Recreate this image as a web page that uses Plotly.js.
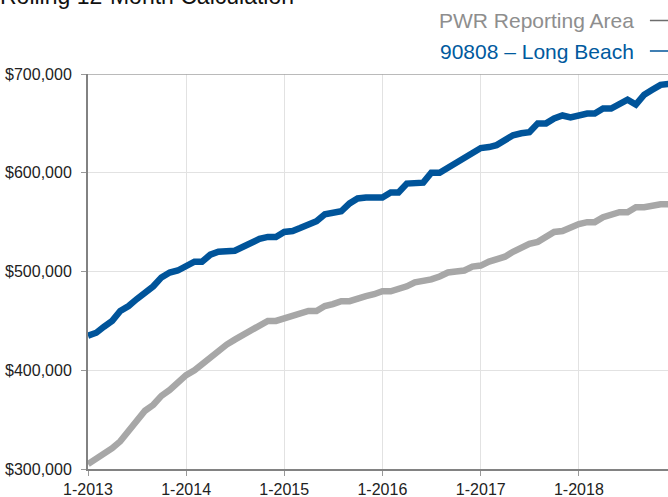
<!DOCTYPE html>
<html>
<head>
<meta charset="utf-8">
<script src="https://cdn.plot.ly/plotly-3.0.1.min.js"></script>
<style>
  html, body { margin: 0; padding: 0; overflow: hidden; background: #fff; width: 668px; height: 497px; }
  #chart { width: 700px; height: 520px; margin-top: -20px; }
</style>
</head>
<body>
<div id="chart"></div>
<script>
// Months Jan 2013 .. Dec 2018
var startYear = 2013;
var monthCount = 72;
var months = [];
for (var i = 0; i < monthCount; i++) {
  var y = startYear + Math.floor(i / 12);
  var m = (i % 12) + 1;
  months.push(y + '-' + (m < 10 ? '0' + m : m) + '-01');
}

var seriesNames = ['PWR Reporting Area', '90808 \u2013 Long Beach'];

// Rolling 12-month values (USD)
var pwrArea = [
  305000, 310000, 315000, 321000, 328000, 338000, 349000, 359000, 365000, 374000, 380000, 387000,
  395000, 400000, 406000, 414000, 421000, 426000, 431000, 436000, 441000, 446000, 450000, 450000,
  453000, 455000, 458000, 460000, 460000, 465000, 467000, 470000, 470000, 473000, 475000, 477000,
  480000, 480000, 482000, 485000, 489000, 490000, 492000, 495000, 499000, 500000, 501000, 505000,
  506000, 510000, 512000, 515000, 520000, 525000, 528000, 530000, 535000, 540000, 541000, 545000,
  548000, 550000, 550000, 555000, 557000, 560000, 560000, 565000, 565000, 567000, 568000, 568000
];

var longBeach = [
  435000, 438000, 444000, 450000, 460000, 465000, 472000, 479000, 485000, 494000, 499000, 501000,
  505000, 510000, 510000, 517000, 520000, 520000, 521000, 525000, 530000, 533000, 535000, 535000,
  540000, 541000, 544000, 548000, 551000, 558000, 560000, 561000, 569000, 574000, 575000, 575000,
  575000, 580000, 580000, 589000, 589000, 590000, 600000, 600000, 605000, 610000, 615000, 620000,
  625000, 626000, 628000, 633000, 638000, 640000, 641000, 650000, 650000, 655000, 658000, 656000,
  658000, 660000, 660000, 665000, 665000, 669000, 674000, 669000, 679000, 684000, 689000, 690000
];

var titleText = 'Rolling 12-Month Calculation';

var GRAY = '#a7a7a7';
var BLUE = '#00549a';
var FONT = 'Liberation Sans, Arial, Helvetica, sans-serif';

var traces = [
  {
    x: months, y: pwrArea, name: seriesNames[0], type: 'scatter', mode: 'lines',
    line: { color: GRAY, width: 6.5 }, showlegend: false, hoverinfo: 'x+y'
  },
  {
    x: months, y: longBeach, name: seriesNames[1], type: 'scatter', mode: 'lines',
    line: { color: BLUE, width: 6.5 }, showlegend: false, hoverinfo: 'x+y'
  }
];

var layout = {
  width: 700,
  height: 520,
  margin: { l: 88, r: 23, t: 94, b: 31, pad: 0 },
  paper_bgcolor: '#fff',
  plot_bgcolor: '#fff',
  font: { family: FONT, size: 16, color: '#222' },
  showlegend: false,
  xaxis: {
    type: 'date',
    range: ['2013-01-01', '2019-01-01'],
    tick0: '2013-01-01',
    dtick: 'M12',
    tickformat: '%-m-%Y',
    showgrid: true,
    gridcolor: '#e2e2e2',
    gridwidth: 1,
    showline: true,
    linecolor: '#828282',
    linewidth: 2,
    ticks: 'outside',
    ticklen: 5,
    tickwidth: 1,
    tickcolor: '#999',
    tickfont: { family: FONT, size: 16, color: '#222' },
    zeroline: false,
    fixedrange: true
  },
  yaxis: {
    range: [300000, 700000],
    dtick: 100000,
    tickprefix: '$',
    tickformat: ',d',
    showgrid: true,
    gridcolor: '#e2e2e2',
    gridwidth: 1,
    showline: true,
    linecolor: '#828282',
    linewidth: 2,
    ticks: 'outside',
    ticklen: 5,
    tickwidth: 1,
    tickcolor: '#999',
    ticklabelstandoff: 6,
    tickfont: { family: FONT, size: 16, color: '#222' },
    zeroline: false,
    fixedrange: true
  },
  shapes: [
    { type: 'line', xref: 'paper', yref: 'y', x0: 0, x1: 1, y0: 700000, y1: 700000,
      line: { color: '#a3a3a3', width: 1.5 } },
    { type: 'line', xref: 'paper', yref: 'paper', x0: 0.954, x1: 1.05, y0: 1.1354, y1: 1.1354,
      line: { color: '#6d6d6d', width: 1.5 } },
    { type: 'line', xref: 'paper', yref: 'paper', x0: 0.954, x1: 1.05, y0: 1.0582, y1: 1.0582,
      line: { color: BLUE, width: 1.5 } }
  ],
  annotations: [
    { text: titleText, xref: 'paper', yref: 'paper', x: -0.153, y: 1.1585,
      xanchor: 'left', yanchor: 'bottom', showarrow: false,
      font: { family: FONT, size: 23, color: '#111' } },
    { text: seriesNames[0], xref: 'paper', yref: 'paper', x: 0.9299, y: 1.1354,
      xanchor: 'right', yanchor: 'middle', showarrow: false,
      font: { family: FONT, size: 21, color: '#8e8e8e' } },
    { text: seriesNames[1], xref: 'paper', yref: 'paper', x: 0.9299, y: 1.0582,
      xanchor: 'right', yanchor: 'middle', showarrow: false,
      font: { family: FONT, size: 21, color: '#005a9e' } }
  ]
};

Plotly.newPlot('chart', traces, layout, { displayModeBar: false, staticPlot: true });
</script>
</body>
</html>
